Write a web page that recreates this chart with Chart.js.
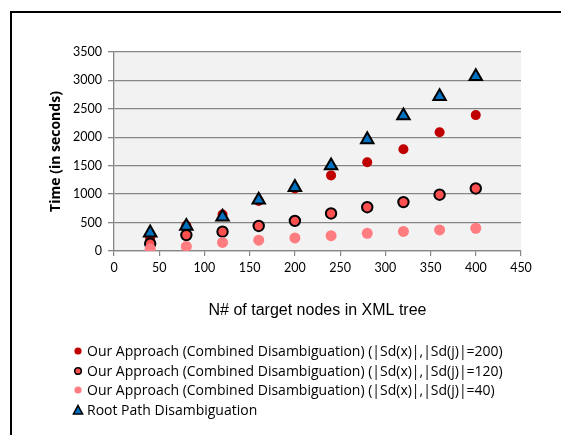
<!DOCTYPE html>
<html>
<head>
<meta charset="utf-8">
<script src="https://cdn.jsdelivr.net/npm/chart.js@4.4.1/dist/chart.umd.min.js"></script>
<style>
  html, body { margin: 0; padding: 0; background: #fff; overflow: hidden; }
  #wrap { position: relative; width: 561px; height: 435px; overflow: hidden; }
  #c { position: absolute; left: 0; top: 0; }
  #legend { position: absolute; left: 72px; top: 341px; font-family: 'Open Sans', Lato, sans-serif; font-size: 14px; color: #000; }
  #legend .item { height: 19.7px; line-height: 19.7px; white-space: nowrap; display: flex; align-items: center; }
  #legend svg { width: 12px; height: 12px; margin-right: 3px; flex: none; }
</style>
</head>
<body>
<div id="wrap">
  <canvas id="c" width="561" height="435"></canvas>
  <div id="legend"></div>
</div>
<script>
// ---- data ----
const xValues = [40, 80, 120, 160, 200, 240, 280, 320, 360, 400];
const sd200 = [220, 450, 640, 880, 1100, 1330, 1560, 1790, 2090, 2390];
const sd120 = [130, 280, 340, 440, 530, 660, 770, 860, 990, 1100];
const sd40 = [40, 80, 150, 190, 230, 270, 310, 345, 370, 400];
const rootPath = [320, 435, 600, 900, 1120, 1500, 1960, 2380, 2720, 3070];
const seriesLabels = [
  'Our Approach (Combined Disambiguation) (|Sd(x)|,|Sd(j)|=200)',
  'Our Approach (Combined Disambiguation) (|Sd(x)|,|Sd(j)|=120)',
  'Our Approach (Combined Disambiguation) (|Sd(x)|,|Sd(j)|=40)',
  'Root Path Disambiguation'
];
const yTitle = 'Time (in seconds)';
const xTitle = 'N# of target nodes in XML tree';

function pts(ys) { return xValues.map((x, i) => ({ x: x, y: ys[i] })); }

const plotBg = {
  id: 'plotBg',
  beforeDraw(chart) {
    const { ctx, chartArea: a } = chart;
    ctx.save();
    ctx.fillStyle = '#F2F2F2';
    ctx.fillRect(a.left, a.top, a.right - a.left, a.bottom - a.top);
    // outer frame (top and left edges only visible)
    ctx.fillStyle = '#000';
    ctx.fillRect(10, 11, chart.width - 10, 2);
    ctx.fillRect(10, 11, 2, chart.height - 11);
    ctx.restore();
  }
};

const gridCol = '#868686';
const datasets = [
  { label: seriesLabels[0], data: pts(sd200), pointStyle: 'circle', pointRadius: 5, backgroundColor: '#C00000', borderColor: '#C00000', borderWidth: 0, order: 3 },
  { label: seriesLabels[1], data: pts(sd120), pointStyle: 'circle', pointRadius: 5.2, backgroundColor: '#FF5050', borderColor: '#000', borderWidth: 2, order: 2 },
  { label: seriesLabels[2], data: pts(sd40), pointStyle: 'circle', pointRadius: 5.5, backgroundColor: '#FF7C80', borderColor: '#FF7C80', borderWidth: 0, order: 1 },
  { label: seriesLabels[3], data: pts(rootPath), pointStyle: 'triangle', pointRadius: 7.2, backgroundColor: '#0070C0', borderColor: '#000', borderWidth: 2, order: 0 }
];

const plain = v => String(v);

new Chart(document.getElementById('c'), {
  type: 'scatter',
  data: { datasets: datasets },
  plugins: [plotBg],
  options: {
    responsive: false,
    devicePixelRatio: 1,
    animation: false,
    events: [],
    layout: { padding: { left: 0, top: 52, right: 40, bottom: 110 } },
    plugins: { legend: { display: false }, tooltip: { enabled: false } },
    scales: {
      x: {
        type: 'linear', min: 0, max: 450,
        ticks: { stepSize: 50, padding: 4, color: '#000', font: { family: 'Lato', size: 12.5 }, maxRotation: 0, callback: plain },
        grid: { drawOnChartArea: false, color: gridCol, tickLength: 5, lineWidth: 1.2 },
        border: { display: true, color: gridCol, width: 1.2 },
        title: { display: true, text: xTitle, color: '#000', font: { family: 'Liberation Sans', size: 16 }, padding: { top: 0, bottom: 5 } },
        afterFit(s) { s.height = 74; }
      },
      y: {
        type: 'linear', min: 0, max: 3500,
        ticks: { stepSize: 500, padding: 6, color: '#000', font: { family: 'Lato', size: 12.5 }, callback: plain },
        grid: { color: gridCol, tickLength: 6, lineWidth: 1.3 },
        border: { display: true, color: gridCol, width: 1.3 },
        title: { display: true, text: yTitle, color: '#000', font: { family: 'Open Sans', size: 14, weight: 'bold' }, padding: { top: 48, bottom: 0 } },
        afterFit(s) { s.width = 114; }
      }
    }
  }
});

// ---- HTML legend built from datasets ----
const leg = document.getElementById('legend');
datasets.forEach(ds => {
  const row = document.createElement('div');
  row.className = 'item';
  let svg;
  if (ds.pointStyle === 'triangle') {
    svg = '<svg viewBox="0 0 12 12"><polygon points="6,1.5 10.5,10 1.5,10" fill="' + ds.backgroundColor + '" stroke="#000" stroke-width="1.6"/></svg>';
  } else {
    const r = ds.borderWidth ? 3.3 : 3.6;
    svg = '<svg viewBox="0 0 12 12"><circle cx="6" cy="6" r="' + r + '" fill="' + ds.backgroundColor + '"' + (ds.borderWidth ? ' stroke="#000" stroke-width="1.6"' : '') + '/></svg>';
  }
  row.innerHTML = svg + '<span></span>';
  row.querySelector('span').textContent = ds.label;
  leg.appendChild(row);
});
</script>
</body>
</html>
